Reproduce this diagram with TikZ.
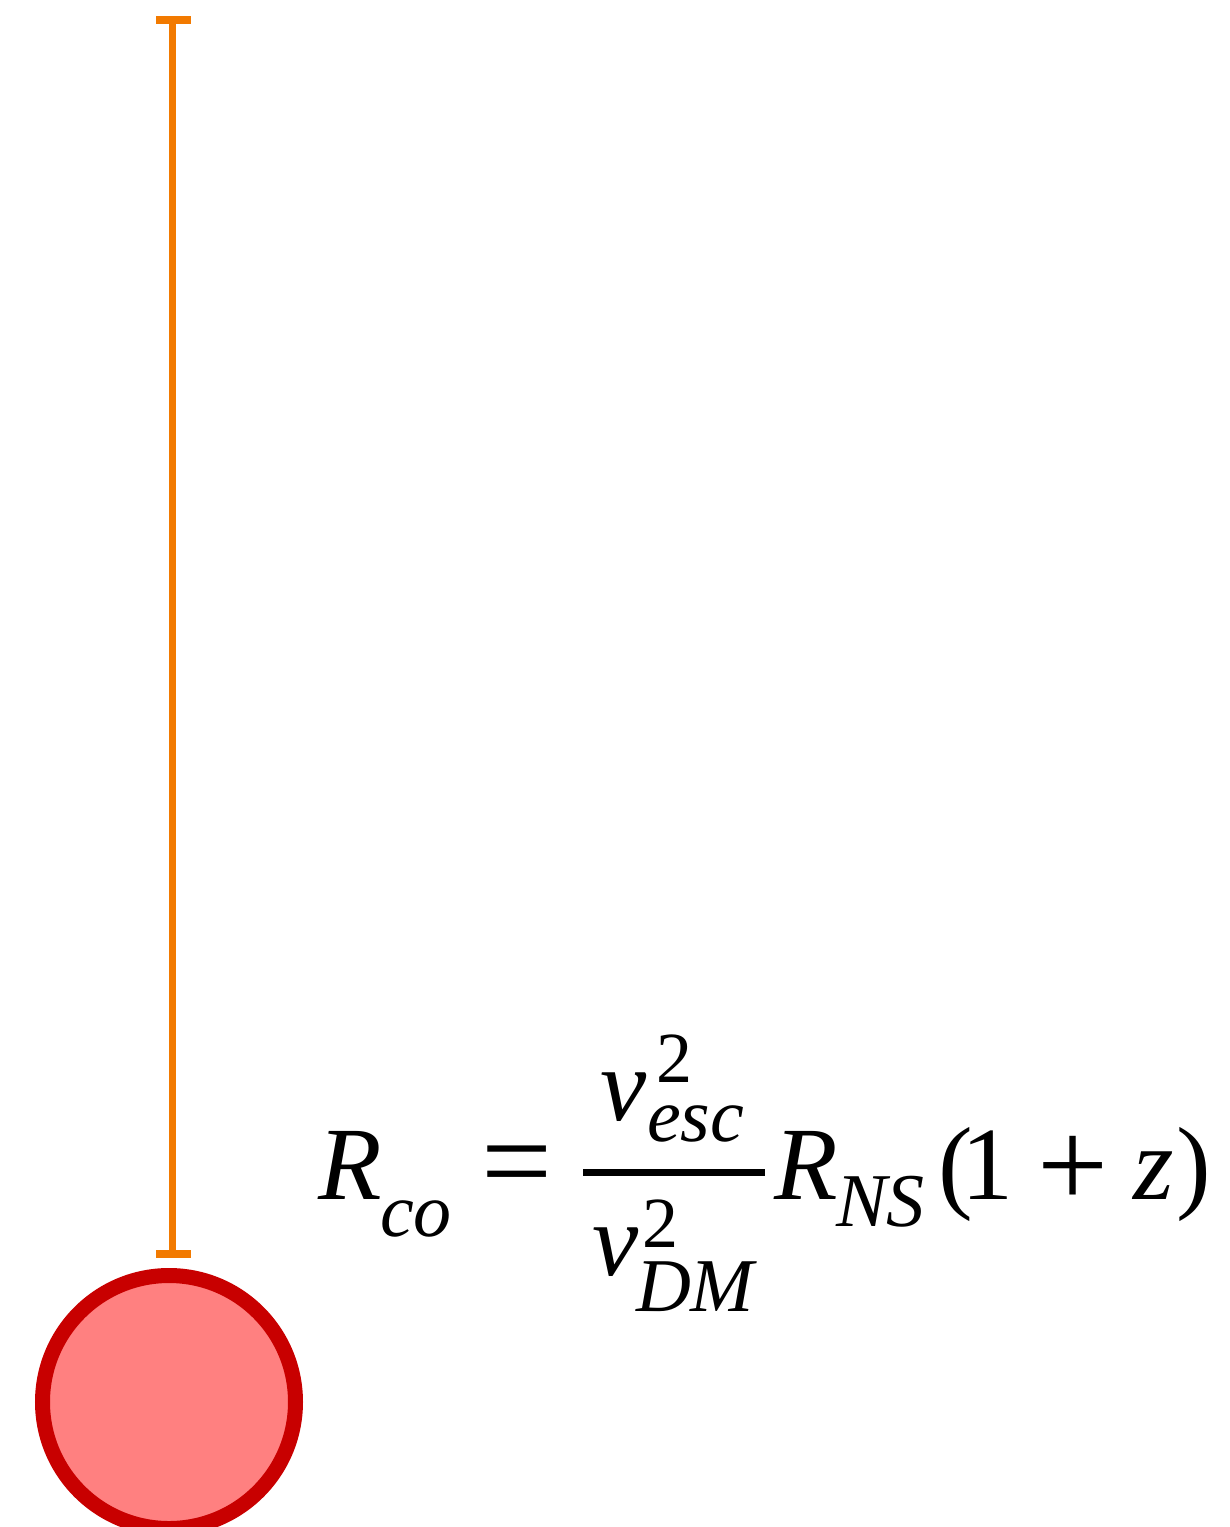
\documentclass[tikz,border=0pt]{standalone}
\usepackage{fontspec}
\setmainfont{Liberation Serif}
\definecolor{starfill}{RGB}{255,128,128}
\definecolor{stardraw}{RGB}{200,0,0}
\definecolor{barorange}{RGB}{242,122,0}
\begin{document}
\begin{tikzpicture}[x=1pt,y=1pt,
  glyph/.style={inner sep=0pt,outer sep=0pt,anchor=base west},
  big/.style={glyph,font=\fontsize{104}{120}\selectfont},
  bigit/.style={glyph,font=\fontsize{104}{120}\selectfont\itshape},
  subit/.style={glyph,font=\fontsize{76}{90}\selectfont\itshape},
  sup/.style={glyph,font=\fontsize{72}{84}\selectfont},
  radius/.style={barorange,line width=7pt},
  radcap/.style={barorange,line width=8pt},
  star/.style={circle,draw=stardraw,fill=starfill,line width=15pt,minimum size=253pt,inner sep=0pt}]
\useasboundingbox (0,0) rectangle (1230,-1527);
% star
\node[star] (ns) at (169,-1402) {};
% radius bar
\coordinate (top) at (172.5,-20);
\coordinate (bot) at (172.5,-1253.5);
\coordinate (topL) at (156,-20);
\coordinate (topR) at (191,-20);
\coordinate (botL) at (156,-1253.5);
\coordinate (botR) at (191,-1253.5);
\draw[radius] (top) -- (bot);
\draw[radcap] (topL) -- (topR);
\draw[radcap] (botL) -- (botR);
% equation
\node[bigit] (R1) at (318,-1199) {R};
\node[subit] (co) at (380,-1236) {co};
\node[glyph,font=\fontsize{126}{140}\selectfont] (eq) at (481,-1203) {=};
\coordinate (fracL) at (583,-1172.5);
\coordinate (fracR) at (765,-1172.5);
\draw[line width=7pt] (fracL) -- (fracR);
\node[bigit] (vn) at (600,-1120) {v};
\node[sup] (twon) at (656,-1082) {2};
\node[subit] (esc) at (647,-1141) {esc};
\node[bigit] (vd) at (592,-1275) {v};
\node[sup] (twod) at (642,-1247) {2};
\node[subit] (DM) at (636,-1311) {DM};
\node[bigit] (R2) at (774,-1199) {R};
\node[subit] (NS) at (836,-1226) {NS};
\node[big] (lp) at (938,-1199) {(};
\node[big] (one) at (961,-1199) {1};
\node[glyph,font=\fontsize{126}{140}\selectfont] (plus) at (1037,-1207) {+};
\node[bigit] (z) at (1133,-1199) {z};
\node[big] (rp) at (1176,-1199) {)};
\end{tikzpicture}
\end{document}
